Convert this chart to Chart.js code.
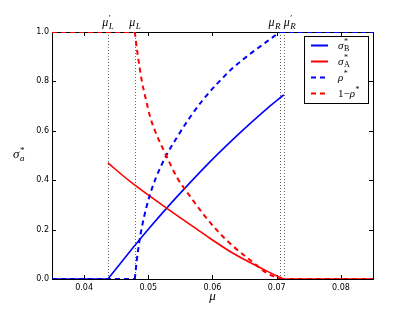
<!DOCTYPE html>
<html>
<head>
<meta charset="utf-8">
<script src="https://cdn.jsdelivr.net/npm/chart.js@4.4.1/dist/chart.umd.min.js"></script>
<style>
  html, body { margin: 0; padding: 0; background: #fff; }
  #wrap { width: 415px; height: 312px; }
</style>
</head>
<body>
<div id="wrap"><canvas id="chart"></canvas></div>
<script>
// Axis ticks
const xTicks = [0.04, 0.05, 0.06, 0.07, 0.08];
const yTicks = [0, 0.2, 0.4, 0.6, 0.8, 1.0];

// Critical points (mu'_L, mu_L, mu_R, mu'_R)
const markMu = [0.0437, 0.0479, 0.0705, 0.0711];
const markSub = ['L', 'L', 'R', 'R'];
const markPrime = [true, false, false, true];
const markAlign = ['center', 'center', 'right', 'left'];

// sigma_B* (blue solid)
const sigmaBMu = [0.035, 0.0437, 0.0472, 0.0500, 0.0529, 0.0560, 0.0596, 0.0627, 0.0658, 0.0685, 0.0711];
const sigmaB   = [0, 0, 0.113, 0.201, 0.288, 0.376, 0.474, 0.553, 0.628, 0.690, 0.745];
const sigmaBCorners = [1];

// sigma_A* (red solid)
const sigmaAMu = [0.0437, 0.0472, 0.0529, 0.0581, 0.0596, 0.0632, 0.0684, 0.0710, 0.085];
const sigmaA   = [0.470, 0.394, 0.286, 0.192, 0.165, 0.104, 0.033, 0, 0];
const sigmaACorners = [7];

// rho* (blue dashed) and 1 - rho* (red dashed)
const rhoMu = [0.035, 0.0479, 0.0482, 0.0486, 0.0490, 0.0496, 0.0503, 0.0512, 0.0526, 0.0545, 0.0565, 0.0585, 0.0607, 0.0632, 0.0658, 0.0684, 0.0705, 0.085];
const rho   = [0, 0, 0.075, 0.15, 0.21, 0.28, 0.345, 0.41, 0.49, 0.575, 0.655, 0.725, 0.79, 0.855, 0.91, 0.96, 1.0, 1.0];
const oneMinusRho = [1, 1, 0.935, 0.865, 0.80, 0.73, 0.655, 0.59, 0.51, 0.41, 0.335, 0.265, 0.197, 0.133, 0.078, 0.025, 0, 0];
const rhoCorners = [1, 16];

const BLUE = '#0000ff';
const RED = '#ff0000';
const SERIF = '"Liberation Serif", "DejaVu Serif", serif';

// split a curve at its kink indices so the smoothing keeps sharp corners
function segments(xs, ys, corners) {
  const cuts = [0, ...corners, xs.length - 1];
  const out = [];
  for (let k = 0; k < cuts.length - 1; k++) {
    const seg = [];
    for (let i = cuts[k]; i <= cuts[k + 1]; i++) seg.push({ x: xs[i], y: ys[i] });
    out.push(seg);
  }
  return out;
}

function curve(xs, ys, corners, style) {
  return segments(xs, ys, corners).map((data) => Object.assign({ data }, style));
}

// draw a math-ish symbol: [pre] base with super/subscript
function drawSym(ctx, s, x, y, align) {
  const fs = s.size || 12;
  const small = Math.round(fs * 0.72);
  ctx.font = `${fs}px ${SERIF}`;
  const preW = s.pre ? ctx.measureText(s.pre).width : 0;
  ctx.font = `italic ${fs}px ${SERIF}`;
  const baseW = ctx.measureText(s.base).width;
  ctx.font = `${small}px ${SERIF}`;
  const supW = s.sup ? ctx.measureText(s.sup).width : 0;
  ctx.font = `${s.subItalic ? 'italic ' : ''}${small}px ${SERIF}`;
  const subW = s.sub ? ctx.measureText(s.sub).width : 0;
  const w = preW + baseW + Math.max(supW, subW);
  let x0 = x;
  if (align === 'center') x0 = x - w / 2;
  else if (align === 'right') x0 = x - w;

  ctx.textAlign = 'left';
  ctx.textBaseline = 'alphabetic';
  ctx.fillStyle = '#000';
  if (s.pre) {
    ctx.font = `${fs}px ${SERIF}`;
    ctx.fillText(s.pre, x0, y);
  }
  ctx.font = `italic ${fs}px ${SERIF}`;
  ctx.fillText(s.base, x0 + preW, y);
  const xs = x0 + preW + baseW + 0.5;
  if (s.sup) {
    ctx.font = `${small}px ${SERIF}`;
    ctx.fillText(s.sup, xs, y - fs * 0.42);
  }
  if (s.sub) {
    ctx.font = `${s.subItalic ? 'italic ' : ''}${small}px ${SERIF}`;
    ctx.fillText(s.sub, xs, y + fs * 0.22);
  }
}

// frame, inward ticks, dotted markers, labels, legend
const framePlugin = {
  id: 'frame',
  beforeDatasetsDraw(chart) {
    const { ctx, chartArea: a, scales } = chart;
    ctx.save();
    // dotted vertical markers
    ctx.strokeStyle = '#666';
    ctx.lineWidth = 1;
    ctx.setLineDash([1, 2]);
    markMu.forEach((m) => {
      const px = Math.round(scales.x.getPixelForValue(m)) + 0.5;
      ctx.beginPath();
      ctx.moveTo(px, a.top);
      ctx.lineTo(px, a.bottom);
      ctx.stroke();
    });
    ctx.setLineDash([]);
    // frame
    ctx.strokeStyle = '#000';
    ctx.strokeRect(Math.round(a.left) + 0.5, Math.round(a.top) + 0.5,
      Math.round(a.right - a.left), Math.round(a.bottom - a.top));
    // inward ticks
    ctx.beginPath();
    xTicks.forEach((v) => {
      const px = Math.round(scales.x.getPixelForValue(v)) + 0.5;
      ctx.moveTo(px, a.bottom); ctx.lineTo(px, a.bottom - 4);
      ctx.moveTo(px, a.top); ctx.lineTo(px, a.top + 4);
    });
    yTicks.forEach((v) => {
      const py = Math.round(scales.y.getPixelForValue(v)) + 0.5;
      ctx.moveTo(a.left, py); ctx.lineTo(a.left + 4, py);
      ctx.moveTo(a.right, py); ctx.lineTo(a.right - 4, py);
    });
    ctx.stroke();
    ctx.restore();
  },
  afterDraw(chart) {
    const { ctx, chartArea: a, scales } = chart;
    ctx.save();
    // marker labels above the plot
    markMu.forEach((m, i) => {
      const px = scales.x.getPixelForValue(m);
      drawSym(ctx, { base: 'μ', sup: markPrime[i] ? '′' : '', sub: markSub[i], subItalic: true, size: 12 },
        px, 26, markAlign[i]);
    });
    // axis labels
    drawSym(ctx, { base: 'μ', size: 13 }, (a.left + a.right) / 2, 300, 'center');
    drawSym(ctx, { base: 'σ', sup: '*', sub: 'a', subItalic: true, size: 13 }, 13, 158, 'left');

    // legend
    const lx = 304, ly = 36, lw = 64, lh = 67;
    ctx.fillStyle = '#fff';
    ctx.fillRect(lx, ly, lw, lh);
    ctx.strokeStyle = '#000';
    ctx.lineWidth = 1;
    ctx.strokeRect(lx + 0.5, ly + 0.5, lw, lh);
    const items = [
      { color: BLUE, dash: [], sym: { base: 'σ', sup: '*', sub: 'B' } },
      { color: RED, dash: [], sym: { base: 'σ', sup: '*', sub: 'A' } },
      { color: BLUE, dash: [5, 4], sym: { base: 'ρ', sup: '*' } },
      { color: RED, dash: [5, 4], sym: { pre: '1−', base: 'ρ', sup: '*' } },
    ];
    items.forEach((it, i) => {
      const cy = 45.5 + i * 16;
      ctx.strokeStyle = it.color;
      ctx.lineWidth = 2;
      ctx.setLineDash(it.dash);
      ctx.beginPath();
      ctx.moveTo(311, cy);
      ctx.lineTo(328, cy);
      ctx.stroke();
      ctx.setLineDash([]);
      drawSym(ctx, Object.assign({ size: 11 }, it.sym), 338, cy + 3, 'left');
    });
    ctx.restore();
  },
};

const tickFont = { family: '"DejaVu Sans", sans-serif', size: 8 };

const datasets = [
  ...curve(sigmaBMu, sigmaB, sigmaBCorners, { borderColor: BLUE, borderWidth: 1.6, order: 4 }),
  ...curve(sigmaAMu, sigmaA, sigmaACorners, { borderColor: RED, borderWidth: 1.6, order: 3 }),
  ...curve(rhoMu, rho, rhoCorners, { borderColor: BLUE, borderWidth: 2, borderDash: [5, 4], order: 2 }),
  ...curve(rhoMu, oneMinusRho, rhoCorners, { borderColor: RED, borderWidth: 2, borderDash: [5, 4], order: 1 }),
];

new Chart(document.getElementById('chart'), {
  type: 'line',
  data: { datasets },
  options: {
    responsive: true,
    maintainAspectRatio: false,
    animation: false,
    devicePixelRatio: 1,
    layout: { padding: { top: 32, right: 42, left: 0, bottom: 0 } },
    elements: {
      point: { radius: 0 },
      line: { cubicInterpolationMode: 'monotone', fill: false },
    },
    plugins: {
      legend: { display: false },
      tooltip: { enabled: false },
    },
    scales: {
      x: {
        type: 'linear',
        min: 0.035,
        max: 0.085,
        grid: { display: false, drawTicks: false },
        border: { display: false },
        afterBuildTicks: (s) => { s.ticks = xTicks.map((v) => ({ value: v })); },
        afterFit: (s) => { s.height = 33; },
        ticks: {
          font: tickFont,
          color: '#000',
          padding: 4,
          maxRotation: 0,
          callback: (v) => v.toFixed(2),
        },
      },
      y: {
        type: 'linear',
        min: 0,
        max: 1,
        grid: { display: false, drawTicks: false },
        border: { display: false },
        afterBuildTicks: (s) => { s.ticks = yTicks.map((v) => ({ value: v })); },
        afterFit: (s) => { s.width = 52; },
        ticks: {
          font: tickFont,
          color: '#000',
          padding: 3,
          callback: (v) => v.toFixed(1),
        },
      },
    },
  },
  plugins: [framePlugin],
});
</script>
</body>
</html>
